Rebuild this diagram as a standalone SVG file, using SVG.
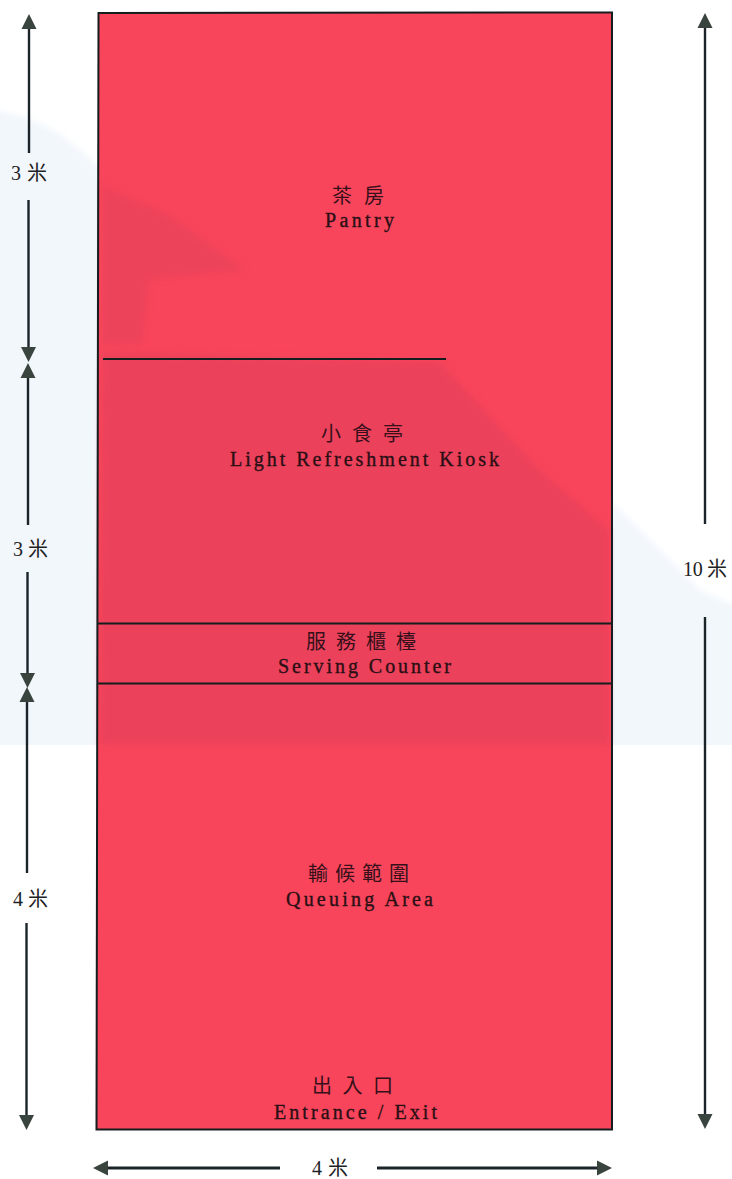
<svg xmlns="http://www.w3.org/2000/svg" width="732" height="1179" viewBox="0 0 732 1179">
<style>
.dim{stroke:#1b2429;stroke-width:2.4;fill:none;marker-end:url(#head)}
.wall{stroke:#151d1e;stroke-width:2;fill:none}
text{font-family:"Liberation Serif","Noto Sans CJK TC",serif}
.en{font-size:20px;fill:#2a0f15;stroke:#2a0f15;stroke-width:.35}
.zh{font-size:20px;fill:#35101a;font-family:"Noto Sans CJK TC","Liberation Serif",serif}
.lab{font-size:20px;fill:#1d2224}
</style>
<defs>
<marker id="head" markerUnits="userSpaceOnUse" viewBox="0 -8 15 16" refX="0" refY="0" markerWidth="15" markerHeight="16" orient="auto" overflow="visible">
<path d="M0,-7.5 L15,0 L0,7.5 Z" fill="#39443f"/>
</marker>
<filter id="soft" x="-10%" y="-10%" width="120%" height="120%"><feGaussianBlur stdDeviation="3"/></filter>
<clipPath id="page"><rect width="732" height="745"/></clipPath>
</defs>
<rect width="732" height="1179" fill="#ffffff"/>
<g clip-path="url(#page)">
<path d="M-10,110 C40,115 75,140 110,180 L110,760 L-10,760 Z" fill="#f2f7fc" filter="url(#soft)"/>
<path d="M600,490 L650,540 L700,590 L745,610 L745,760 L600,760 Z" fill="#f2f7fc" filter="url(#soft)"/>
</g>
<g id="plan">
<path d="M98.5,13 L612,12.5 L612,1129.5 L96.5,1129.5 Z" fill="#f8455b"/>
<g filter="url(#soft)" opacity=".6">
<path d="M102,185 L170,215 L245,270 L150,280 L142,345 L102,345 Z" fill="#e6435a"/>
<path d="M102,352 L440,362 L540,470 L609,530 L609,745 L100,745 Z" fill="#e4405a"/>
</g>
<path d="M98.5,13 L612,12.5 L612,1129.5 L96.5,1129.5 Z" class="wall"/>
</g>
<g id="connectors">
<line class="wall" x1="103" y1="359" x2="446" y2="359"/>
<line class="wall" x1="98" y1="623.5" x2="613" y2="623.5"/>
<line class="wall" x1="98" y1="683.5" x2="612" y2="683.5"/>
<line class="dim" x1="29" y1="153" x2="29" y2="29"/>
<line class="dim" x1="28.5" y1="200" x2="28.5" y2="347"/>
<line class="dim" x1="28" y1="525" x2="28" y2="378"/>
<line class="dim" x1="27.5" y1="572" x2="27.5" y2="673"/>
<line class="dim" x1="27" y1="873" x2="27" y2="702"/>
<line class="dim" x1="26.5" y1="923" x2="26.5" y2="1115"/>
<line class="dim" x1="705" y1="524" x2="705" y2="28"/>
<line class="dim" x1="705" y1="617" x2="705" y2="1114"/>
<line class="dim" style="stroke-width:3" x1="280" y1="1168" x2="108" y2="1168"/>
<line class="dim" style="stroke-width:3" x1="377" y1="1168" x2="597" y2="1168"/>
</g>
<g id="pantry">
<text class="zh" x="332" y="203" textLength="52" lengthAdjust="spacing">茶房</text>
<text class="en" x="325" y="227" textLength="69" lengthAdjust="spacing">Pantry</text>
</g>
<g id="kiosk">
<text class="zh" x="321" y="441" textLength="82" lengthAdjust="spacing">小食亭</text>
<text class="en" x="230" y="466" textLength="269" lengthAdjust="spacing">Light Refreshment Kiosk</text>
</g>
<g id="counter">
<text class="zh" x="306" y="649" textLength="110" lengthAdjust="spacing">服務櫃檯</text>
<text class="en" x="278" y="673" textLength="173" lengthAdjust="spacing">Serving Counter</text>
</g>
<g id="queue">
<text class="zh" x="308" y="881" textLength="101" lengthAdjust="spacing">輸候範圍</text>
<text class="en" x="286" y="906" textLength="147" lengthAdjust="spacing">Queuing Area</text>
</g>
<g id="entrance">
<text class="zh" x="312" y="1093" textLength="81" lengthAdjust="spacing">出入口</text>
<text class="en" x="274" y="1119" textLength="163" lengthAdjust="spacing">Entrance / Exit</text>
</g>
<g id="dimensions">
<text class="lab" x="11" y="180" textLength="36" lengthAdjust="spacing">3 米</text>
<text class="lab" x="13" y="556" textLength="35" lengthAdjust="spacing">3 米</text>
<text class="lab" x="13" y="906" textLength="35" lengthAdjust="spacing">4 米</text>
<text class="lab" x="683" y="576" textLength="44" lengthAdjust="spacing">10 米</text>
<text class="lab" x="312" y="1175" textLength="36" lengthAdjust="spacing">4 米</text>
</g>
</svg>
